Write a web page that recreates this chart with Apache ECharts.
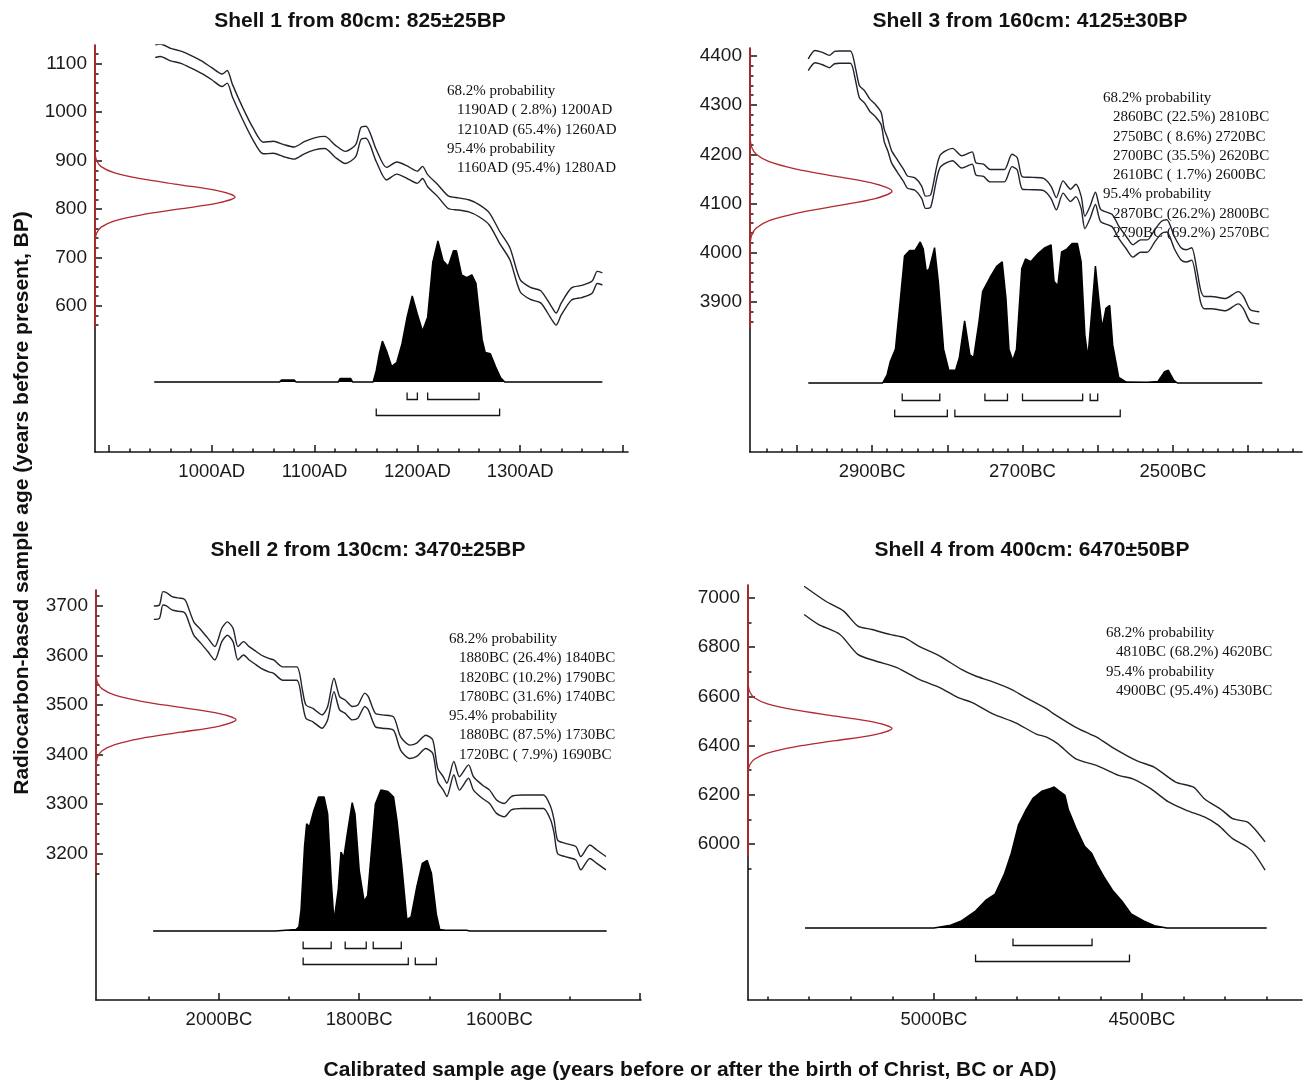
<!DOCTYPE html>
<html>
<head>
<meta charset="utf-8">
<script src="https://cdn.jsdelivr.net/npm/echarts@6/dist/echarts.min.js"></script>
<style>
  html, body { margin: 0; padding: 0; background: #fff; }
  #chart { width: 1303px; height: 1082px; }
</style>
</head>
<body>
<div id="chart"></div>
<script>
// ---------------- Shell 1 (80 cm) ----------------
const shell1Title = 'Shell 1 from 80cm: 825±25BP';
const shell1Age = [825, 25];                 // conventional 14C age and error, BP
const shell1CurveYears = [945,950,960,970,980,990,1000,1010,1015,1020,1030,1040,1050,1060,1070,1080,1090,1100,1110,1120,1130,1140,1145,1150,1160,1170,1180,1190,1200,1205,1210,1220,1230,1240,1250,1260,1270,1280,1290,1300,1310,1320,1330,1335,1340,1350,1360,1370,1375,1380];
const shell1CurveUpper = [1139,1141,1132,1126,1117,1106,1092,1079,1086,1058,1010,968,938,940,933,928,939,947,950,932,919,933,968,971,923,886,897,889,878,888,871,850,827,823,819,809,792,754,720,654,638,631,600,585,606,637,642,651,671,668];
const shell1CurveLower = [1113,1115,1106,1101,1091,1080,1067,1053,1060,1032,985,943,914,915,908,903,914,922,925,907,894,908,943,946,898,860,872,863,853,863,846,825,801,798,794,784,767,729,695,629,613,606,574,560,581,612,617,626,646,643];
const shell1Prob = [[944,0],[1066,0],[1068,0.015],[1080,0.015],[1082,0],[1123,0],[1125,0.025],[1135,0.025],[1137,0],[1157,0],[1160,0.08],[1163,0.2],[1166,0.29],[1170,0.22],[1175,0.11],[1180,0.14],[1185,0.27],[1190,0.46],[1195,0.61],[1200,0.48],[1205,0.36],[1210,0.46],[1215,0.85],[1220,1.0],[1225,0.86],[1230,0.82],[1235,0.93],[1238,0.93],[1243,0.76],[1248,0.74],[1253,0.76],[1257,0.7],[1260,0.5],[1263,0.3],[1266,0.21],[1271,0.2],[1276,0.11],[1281,0.03],[1285,0],[1380,0]];
const shell1Range68 = [[1190,1200,2.8],[1210,1260,65.4]];
const shell1Range95 = [[1160,1280,95.4]];

// ---------------- Shell 3 (160 cm) ----------------
const shell3Title = 'Shell 3 from 160cm: 4125±30BP';
const shell3Age = [4125, 30];
const shell3CurveYears = [-2985,-2976,-2966,-2957,-2950,-2943,-2929,-2922,-2917,-2910,-2903,-2896,-2888,-2884,-2879,-2874,-2867,-2858,-2853,-2843,-2834,-2829,-2822,-2810,-2793,-2781,-2767,-2762,-2752,-2743,-2733,-2724,-2714,-2707,-2700,-2686,-2672,-2662,-2655,-2646,-2636,-2629,-2622,-2617,-2610,-2603,-2596,-2581,-2572,-2562,-2553,-2543,-2534,-2524,-2515,-2508,-2498,-2489,-2482,-2475,-2468,-2463,-2458,-2449,-2430,-2413,-2406,-2397,-2385];
const shell3CurveUpper = [4394,4411,4407,4401,4409,4410,4410,4374,4340,4329,4312,4302,4285,4251,4231,4207,4190,4169,4156,4152,4135,4115,4118,4197,4212,4197,4205,4183,4180,4169,4169,4169,4200,4193,4154,4153,4151,4135,4112,4146,4129,4139,4115,4074,4095,4123,4088,4078,4054,4033,4016,4026,4026,4047,4064,4067,4033,4010,4006,4010,3965,3924,3911,3911,3907,3921,3911,3884,3880];
const shell3CurveLower = [4370,4386,4382,4376,4384,4385,4385,4349,4315,4304,4287,4277,4260,4226,4206,4182,4165,4144,4131,4127,4110,4090,4093,4172,4187,4172,4180,4158,4155,4144,4144,4144,4175,4168,4129,4128,4126,4110,4087,4121,4104,4114,4090,4049,4070,4098,4063,4053,4029,4008,3991,4001,4001,4022,4039,4042,4008,3985,3981,3985,3940,3899,3886,3886,3882,3896,3886,3859,3855];
const shell3Prob = [[-2985,0],[-2886,0],[-2880,0.06],[-2876,0.15],[-2869,0.24],[-2862,0.62],[-2857,0.9],[-2850,0.94],[-2843,0.94],[-2836,1.0],[-2832,0.95],[-2828,0.79],[-2824,0.81],[-2817,0.96],[-2812,0.72],[-2805,0.24],[-2798,0.09],[-2789,0.09],[-2784,0.18],[-2777,0.44],[-2770,0.2],[-2765,0.18],[-2758,0.43],[-2753,0.65],[-2743,0.75],[-2734,0.83],[-2727,0.86],[-2722,0.6],[-2718,0.24],[-2713,0.16],[-2708,0.24],[-2701,0.81],[-2696,0.88],[-2689,0.86],[-2679,0.92],[-2670,0.96],[-2662,0.98],[-2658,0.72],[-2653,0.69],[-2648,0.93],[-2641,0.95],[-2634,0.99],[-2627,0.99],[-2622,0.86],[-2617,0.34],[-2613,0.18],[-2608,0.5],[-2603,0.83],[-2598,0.57],[-2594,0.39],[-2589,0.53],[-2584,0.55],[-2580,0.27],[-2572,0.04],[-2562,0.007],[-2534,0.005],[-2520,0.01],[-2511,0.08],[-2506,0.09],[-2499,0.02],[-2494,0],[-2381,0]];
const shell3Range68 = [[-2860,-2810,22.5],[-2750,-2720,8.6],[-2700,-2620,35.5],[-2610,-2600,1.7]];
const shell3Range95 = [[-2870,-2800,26.2],[-2790,-2570,69.2]];

// ---------------- Shell 2 (130 cm) ----------------
const shell2Title = 'Shell 2 from 130cm: 3470±25BP';
const shell2Age = [3470, 25];
const shell2CurveYears = [-2093,-2085,-2080,-2075,-2067,-2057,-2051,-2047,-2036,-2026,-2016,-2006,-1996,-1988,-1980,-1973,-1965,-1957,-1947,-1940,-1929,-1922,-1909,-1889,-1881,-1876,-1866,-1853,-1845,-1836,-1828,-1820,-1810,-1802,-1792,-1787,-1777,-1767,-1751,-1741,-1728,-1718,-1705,-1695,-1688,-1680,-1675,-1665,-1657,-1644,-1637,-1624,-1614,-1604,-1593,-1583,-1568,-1553,-1537,-1527,-1522,-1517,-1507,-1491,-1484,-1471,-1461,-1448];
const shell2CurveUpper = [3700,3702,3729,3727,3719,3716,3715,3709,3668,3652,3635,3618,3655,3668,3655,3618,3628,3618,3608,3601,3594,3591,3577,3577,3530,3500,3493,3480,3497,3554,3517,3510,3497,3500,3524,3517,3483,3480,3476,3436,3419,3423,3439,3429,3372,3355,3342,3386,3355,3379,3355,3338,3328,3308,3301,3315,3318,3318,3318,3295,3268,3227,3221,3214,3194,3217,3207,3194];
const shell2CurveLower = [3673,3675,3702,3700,3692,3689,3688,3682,3641,3625,3608,3591,3628,3641,3628,3591,3601,3591,3581,3574,3567,3564,3550,3550,3503,3473,3466,3453,3470,3527,3490,3483,3470,3473,3497,3490,3456,3453,3449,3409,3392,3396,3412,3402,3345,3328,3315,3359,3328,3352,3328,3311,3301,3281,3274,3288,3291,3291,3291,3268,3241,3200,3194,3187,3167,3190,3180,3167];
const shell2Prob = [[-2094,0],[-1920,0],[-1918,0.007],[-1890,0.01],[-1886,0.03],[-1883,0.15],[-1878,0.6],[-1875,0.76],[-1871,0.74],[-1865,0.85],[-1858,0.95],[-1850,0.95],[-1845,0.83],[-1840,0.36],[-1836,0.07],[-1830,0.29],[-1826,0.56],[-1822,0.52],[-1817,0.69],[-1810,0.91],[-1806,0.83],[-1800,0.43],[-1793,0.21],[-1788,0.25],[-1782,0.6],[-1777,0.9],[-1769,1.0],[-1759,0.99],[-1751,0.95],[-1746,0.78],[-1739,0.45],[-1732,0.08],[-1726,0.1],[-1718,0.31],[-1710,0.48],[-1703,0.5],[-1697,0.41],[-1690,0.12],[-1685,0.01],[-1677,0.005],[-1647,0.005],[-1642,0],[-1447,0]];
const shell2Range68 = [[-1880,-1840,26.4],[-1820,-1790,10.2],[-1780,-1740,31.6]];
const shell2Range95 = [[-1880,-1730,87.5],[-1720,-1690,7.9]];

// ---------------- Shell 4 (400 cm) ----------------
const shell4Title = 'Shell 4 from 400cm: 6470±50BP';
const shell4Age = [6470, 50];
const shell4UpperYears = [-5312,-5260,-5217,-5183,-5149,-5106,-5071,-5037,-4986,-4934,-4900,-4865,-4814,-4780,-4728,-4711,-4659,-4625,-4608,-4565,-4513,-4470,-4419,-4376,-4350,-4307,-4282,-4247,-4230,-4204];
const shell4CurveUpper = [7048,6987,6947,6886,6872,6852,6839,6805,6764,6710,6683,6663,6629,6596,6548,6528,6474,6447,6434,6387,6339,6312,6252,6231,6184,6137,6103,6090,6063,6009];
const shell4LowerYears = [-5312,-5278,-5226,-5183,-5140,-5089,-5037,-4986,-4943,-4908,-4857,-4805,-4754,-4728,-4702,-4659,-4608,-4556,-4522,-4479,-4436,-4393,-4350,-4316,-4282,-4247,-4230,-4204];
const shell4CurveLower = [6933,6893,6852,6771,6744,6717,6670,6636,6596,6575,6528,6494,6447,6434,6407,6346,6319,6279,6265,6225,6171,6137,6110,6076,6022,5988,5961,5894];
const shell4Prob = [[-5310,0],[-5000,0],[-4960,0.02],[-4934,0.05],[-4900,0.12],[-4874,0.2],[-4853,0.24],[-4831,0.38],[-4814,0.53],[-4797,0.73],[-4780,0.83],[-4762,0.92],[-4741,0.97],[-4720,0.99],[-4711,1.0],[-4698,0.97],[-4685,0.94],[-4677,0.84],[-4659,0.71],[-4638,0.58],[-4621,0.53],[-4608,0.45],[-4591,0.36],[-4569,0.26],[-4548,0.19],[-4526,0.1],[-4496,0.05],[-4470,0.016],[-4440,0],[-4200,0]];
const shell4Range68 = [[-4810,-4620,68.2]];
const shell4Range95 = [[-4900,-4530,95.4]];

// Relative height of the measured-age curve at half-sigma steps (-4σ … +4σ)
const ageCurveProfile = [0.0003,0.002,0.011,0.044,0.135,0.325,0.607,0.882,1,0.882,0.607,0.325,0.135,0.044,0.011,0.002,0.0003];

// Axis ticks and labels (calendar years: negative = BC)
const shell1XMajor = [900,1000,1100,1200,1300,1400];
const shell1XLabels = [1000,1100,1200,1300];
const shell1YMajor = [600,700,800,900,1000,1100];
const shell3XMajor = [-3000,-2900,-2800,-2700,-2600,-2500,-2400];
const shell3XLabels = [-2900,-2700,-2500];
const shell3YMajor = [3900,4000,4100,4200,4300,4400];
const shell2XMajor = [-2000,-1800,-1600,-1400];
const shell2XLabels = [-2000,-1800,-1600];
const shell2YMajor = [3200,3300,3400,3500,3600,3700];
const shell4XMajor = [-5000,-4500];
const shell4XLabels = [-5000,-4500];
const shell4YMajor = [6000,6200,6400,6600,6800,7000];

const yAxisTitle = 'Radiocarbon-based sample age (years before present, BP)';
const xAxisTitle = 'Calibrated sample age (years before or after the birth of Christ, BC or AD)';

// ---------------- drawing ----------------
const SANS = '"Liberation Sans", Arial, sans-serif';
const SERIF = '"Liberation Serif", "Times New Roman", serif';
const INK = '#141414';
const CURVE = '#23232f';
const RED = '#b22a2e';
const PROB_PX = 141;   // pixel height of the probability peak

function ticks(lo, hi, step, exclude) {
  const out = [];
  for (let v = lo; v <= hi + 1e-9; v += step) if (!exclude.includes(v)) out.push(v);
  return out;
}
const zip = (a, b) => a.map((v, k) => [v, b[k]]);
const fmtYear = v => (v < 0 ? (-v) + 'BC' : v + 'AD');
const fmtPct = p => (p < 10 ? ' ' : '') + p.toFixed(1) + '%';

const panels = [
  { title: shell1Title, age: shell1Age, upper: zip(shell1CurveYears, shell1CurveUpper), lower: zip(shell1CurveYears, shell1CurveLower),
    prob: shell1Prob, r68: shell1Range68, r95: shell1Range95,
    xMajor: shell1XMajor, xLabels: shell1XLabels, xMinor: ticks(900, 1400, 20, shell1XMajor),
    yMajor: shell1YMajor, yMinor: ticks(560, 1120, 20, shell1YMajor), redLow: 556,
    box: { left: 95, top: 45, width: 533, height: 407 }, x: [886.4, 1404.9], y: [297.9, 1138.8],
    base: 382, redPeak: 140, titleX: 360, titleY: 21, text: [447, 91] },
  { title: shell3Title, age: shell3Age, upper: zip(shell3CurveYears, shell3CurveUpper), lower: zip(shell3CurveYears, shell3CurveLower),
    prob: shell3Prob, r68: shell3Range68, r95: shell3Range95,
    xMajor: shell3XMajor, xLabels: shell3XLabels, xMinor: ticks(-3040, -2340, 20, shell3XMajor),
    yMajor: shell3YMajor, yMinor: ticks(3860, 4400, 20, shell3YMajor), redLow: 3848,
    box: { left: 750, top: 48, width: 552, height: 404 }, x: [-3062.5, -2328.2], y: [3595, 4416],
    base: 383, redPeak: 142, titleX: 1030, titleY: 21, text: [1103, 98] },
  { title: shell2Title, age: shell2Age, upper: zip(shell2CurveYears, shell2CurveUpper), lower: zip(shell2CurveYears, shell2CurveLower),
    prob: shell2Prob, r68: shell2Range68, r95: shell2Range95,
    xMajor: shell2XMajor, xLabels: shell2XLabels, xMinor: ticks(-2100, -1500, 200, []),
    yMajor: shell2YMajor, yMinor: ticks(3160, 3720, 20, shell2YMajor), redLow: 3160,
    box: { left: 96, top: 590, width: 545, height: 410 }, x: [-2175.5, -1398], y: [2904, 3732.3],
    base: 931, redPeak: 140, titleX: 368, titleY: 550, text: [449, 639] },
  { title: shell4Title, age: shell4Age, upper: zip(shell4UpperYears, shell4CurveUpper), lower: zip(shell4LowerYears, shell4CurveLower),
    prob: shell4Prob, r68: shell4Range68, r95: shell4Range95,
    xMajor: shell4XMajor, xLabels: shell4XLabels, xMinor: ticks(-5400, -4200, 100, shell4XMajor),
    yMajor: shell4YMajor, yMinor: ticks(5900, 6900, 200, []), redLow: 5950,
    box: { left: 748, top: 585, width: 554, height: 415 }, x: [-5447, -4115.3], y: [5366, 7053],
    base: 928, redPeak: 144, titleX: 1032, titleY: 550, text: [1106, 633] }
];

const option = { animation: false, grid: [], xAxis: [], yAxis: [], series: [], graphic: [] };
const tickLine = { color: INK, width: 1.5 };

panels.forEach((p, i) => {
  const b = p.box;
  option.grid.push({ left: b.left, top: b.top, width: b.width, height: b.height });
  const bottom = b.top + b.height;

  // calendar axis with labelled major ticks, then minor ticks, then hidden scale for the age curve height
  option.xAxis.push({
    gridIndex: i, type: 'value', position: 'bottom', min: p.x[0], max: p.x[1],
    axisLine: { show: true, onZero: false, lineStyle: { color: INK, width: 1.6 } },
    axisTick: { show: true, inside: true, length: 7, customValues: p.xMajor, lineStyle: tickLine },
    axisLabel: { show: true, customValues: p.xLabels, formatter: fmtYear, margin: 10,
                 fontFamily: SANS, fontSize: 18.5, color: '#1a1a1a' },
    splitLine: { show: false }
  });
  option.xAxis.push({
    gridIndex: i, type: 'value', position: 'bottom', min: p.x[0], max: p.x[1],
    axisLine: { show: false, onZero: false },
    axisTick: { show: true, inside: true, length: 3.5, customValues: p.xMinor, lineStyle: tickLine },
    axisLabel: { show: false }, splitLine: { show: false }
  });
  option.xAxis.push({
    gridIndex: i, type: 'value', show: false, min: 0, max: b.width / p.redPeak,
    axisLine: { onZero: false }, splitLine: { show: false }
  });

  option.yAxis.push({
    gridIndex: i, type: 'value', position: 'left', min: p.y[0], max: p.y[1],
    axisLine: { show: true, onZero: false, lineStyle: { color: INK, width: 1.6 } },
    axisTick: { show: true, inside: true, length: 7, customValues: p.yMajor, lineStyle: tickLine },
    axisLabel: { show: true, customValues: p.yMajor, formatter: v => String(v), margin: 8,
                 fontFamily: SANS, fontSize: 19, color: '#1a1a1a' },
    splitLine: { show: false }
  });
  option.yAxis.push({
    gridIndex: i, type: 'value', position: 'left', min: p.y[0], max: p.y[1],
    axisLine: { show: false, onZero: false },
    axisTick: { show: true, inside: true, length: 3.5, customValues: p.yMinor, lineStyle: tickLine },
    axisLabel: { show: false }, splitLine: { show: false }
  });
  option.yAxis.push({
    gridIndex: i, type: 'value', show: false,
    min: -(bottom - p.base) / PROB_PX, max: (p.base - b.top) / PROB_PX,
    axisLine: { onZero: false }, splitLine: { show: false }
  });

  const xi = 3 * i, yi = 3 * i;
  const curveLine = { color: CURVE, width: 1.4 };
  option.series.push(
    { type: 'line', xAxisIndex: xi, yAxisIndex: yi, data: p.upper, showSymbol: false, smooth: 0.25, lineStyle: curveLine, silent: true },
    { type: 'line', xAxisIndex: xi, yAxisIndex: yi, data: p.lower, showSymbol: false, smooth: 0.25, lineStyle: curveLine, silent: true },
    { type: 'line', xAxisIndex: xi, yAxisIndex: yi + 2, data: p.prob, showSymbol: false, silent: true,
      lineStyle: { color: '#000', width: 1.5 }, areaStyle: { color: '#000', opacity: 1 } },
    // measured radiocarbon age drawn against the BP axis
    { type: 'line', xAxisIndex: xi + 2, yAxisIndex: yi, showSymbol: false, silent: true, smooth: 0.3,
      data: ageCurveProfile.map((h, k) => [h, p.age[0] + (k - 8) * 0.5 * p.age[1]]),
      lineStyle: { color: RED, width: 1.3 } },
    // red part of the BP axis
    { type: 'line', xAxisIndex: xi + 2, yAxisIndex: yi, showSymbol: false, silent: true, clip: false,
      data: [[0, p.redLow], [0, p.y[1]]], lineStyle: { color: RED, width: 1.8 } },
    // 68.2% and 95.4% range brackets
    { type: 'custom', xAxisIndex: xi, yAxisIndex: yi + 2, silent: true, encode: { x: [0, 1], y: 2 },
      data: p.r68.map(r => [r[0], r[1], 0]).concat(p.r95.map(r => [r[0], r[1], 1])),
      renderItem: (params, api) => {
        const a = api.coord([api.value(0), 0]);
        const c = api.coord([api.value(1), 0]);
        const y = a[1] + (api.value(2) === 0 ? 17.5 : 33.5);
        return { type: 'polyline', shape: { points: [[a[0], y - 7], [a[0], y], [c[0], y], [c[0], y - 7]] },
                 style: { stroke: INK, fill: null, lineWidth: 1.3 } };
      } }
  );

  // panel title
  option.graphic.push({ type: 'text', x: p.titleX, y: p.titleY,
    style: { text: p.title, fontFamily: SANS, fontSize: 21, fontWeight: 'bold', fill: '#111', align: 'center', verticalAlign: 'middle' } });

  // range summary
  const lines = [['68.2% probability', 0]]
    .concat(p.r68.map(r => [fmtYear(r[0]) + ' (' + fmtPct(r[2]) + ') ' + fmtYear(r[1]), 1]))
    .concat([['95.4% probability', 0]])
    .concat(p.r95.map(r => [fmtYear(r[0]) + ' (' + fmtPct(r[2]) + ') ' + fmtYear(r[1]), 1]));
  lines.forEach((ln, k) => {
    option.graphic.push({ type: 'text', x: p.text[0] + (ln[1] ? 10 : 0), y: p.text[1] + k * 19.3,
      style: { text: ln[0], fontFamily: SERIF, fontSize: 15, fill: '#111', align: 'left', verticalAlign: 'middle' } });
  });
});

option.graphic.push(
  { type: 'text', x: 22, y: 503, rotation: Math.PI / 2,
    style: { text: yAxisTitle, fontFamily: SANS, fontSize: 21, fontWeight: 'bold', fill: '#111', align: 'center', verticalAlign: 'middle' } },
  { type: 'text', x: 690, y: 1070,
    style: { text: xAxisTitle, fontFamily: SANS, fontSize: 21, fontWeight: 'bold', fill: '#111', align: 'center', verticalAlign: 'middle' } }
);

const chart = echarts.init(document.getElementById('chart'), null, { renderer: 'canvas' });
chart.setOption(option);
</script>
</body>
</html>
